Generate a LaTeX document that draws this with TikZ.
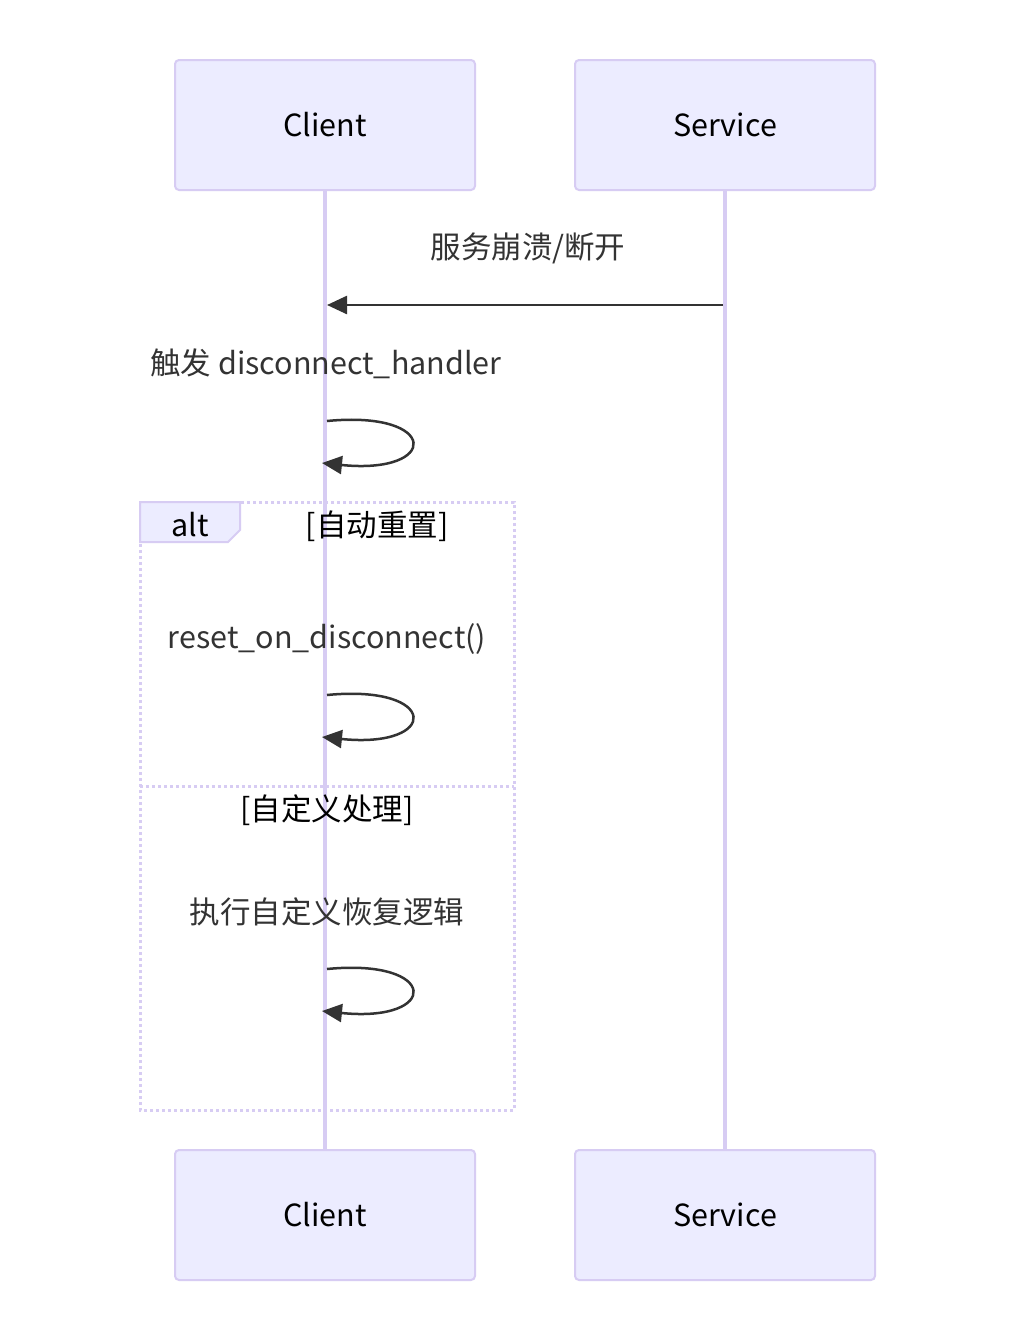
\documentclass[tikz,border=0pt]{standalone}
\usepackage{fontspec}
\setmainfont{Noto Sans CJK SC}
\usetikzlibrary{arrows.meta}
\definecolor{actfill}{HTML}{ECECFF}
\definecolor{actline}{HTML}{D7CCF3}
\definecolor{lifeline}{HTML}{D7CCF3}
\definecolor{msgcol}{HTML}{333333}
\tikzset{
  actor/.style={draw=actline, line width=2pt, fill=actfill, rounded corners=4pt,
    minimum width=300pt, minimum height=130pt, font=\fontsize{30.5}{34}\selectfont, text=black, inner sep=0pt},
  life/.style={draw=lifeline, line width=3.5pt},
  msg/.style={draw=msgcol, line width=2.5pt, -{Triangle[length=20pt,width=18pt]}},
  lbl/.style={font=\fontsize{30.5}{34}\selectfont, text=msgcol, inner sep=0pt},
  frame/.style={draw=actline, line width=3pt, dash pattern=on 3pt off 3pt},
  hdr/.style={font=\fontsize{30.5}{34}\selectfont, text=black, inner sep=0pt},
}
\begin{document}
\begin{tikzpicture}[x=1pt,y=-1pt]
\fill[white] (0,0) rectangle (1015,1342);
\useasboundingbox (0,0) rectangle (1015,1342);
% actors
\node[actor] (ct) at (325,125) {Client};
\node[actor] (st) at (725,125) {Service};
\node[actor] (cb) at (325,1215) {Client};
\node[actor] (sb) at (725,1215) {Service};
% lifelines
\draw[life] (ct.south) -- (cb.north);
\draw[life] (st.south) -- (sb.north);
% alt frame
\draw[frame] (140,502) rectangle (514,1110);
\draw[frame] (140,786) -- (514,786);
\draw[draw=actline, line width=2pt, fill=actfill] (140,502) -- (240,502) -- (240,530) -- (228,542) -- (140,542) -- cycle;
\node[hdr] (altl) at (190,525) {alt};
\node[hdr] (g1) at (377,526) {[自动重置]};
\node[hdr] (g2) at (327,810) {[自定义处理]};
% message 1
\node[lbl] (m1) at (528,248) {服务崩溃/断开};
\coordinate (s1) at (723,305);
\coordinate (c1) at (327,305);
\draw[msg] (s1) -- (c1);
% self loops
\node[lbl] (m2) at (326,364) {触发 disconnect\_handler};
\coordinate (a1) at (327,421);
\coordinate (b1) at (322,463);
\draw[msg] (a1) .. controls (440,410) and (440,475) .. (b1);
\node[lbl] (m3) at (327,639) {reset\_on\_disconnect()};
\coordinate (a2) at (327,695);
\coordinate (b2) at (322,737);
\draw[msg] (a2) .. controls (440,684) and (440,749) .. (b2);
\node[lbl] (m4) at (327,912) {执行自定义恢复逻辑};
\coordinate (a3) at (327,969);
\coordinate (b3) at (322,1011);
\draw[msg] (a3) .. controls (440,958) and (440,1023) .. (b3);
\end{tikzpicture}
\end{document}
